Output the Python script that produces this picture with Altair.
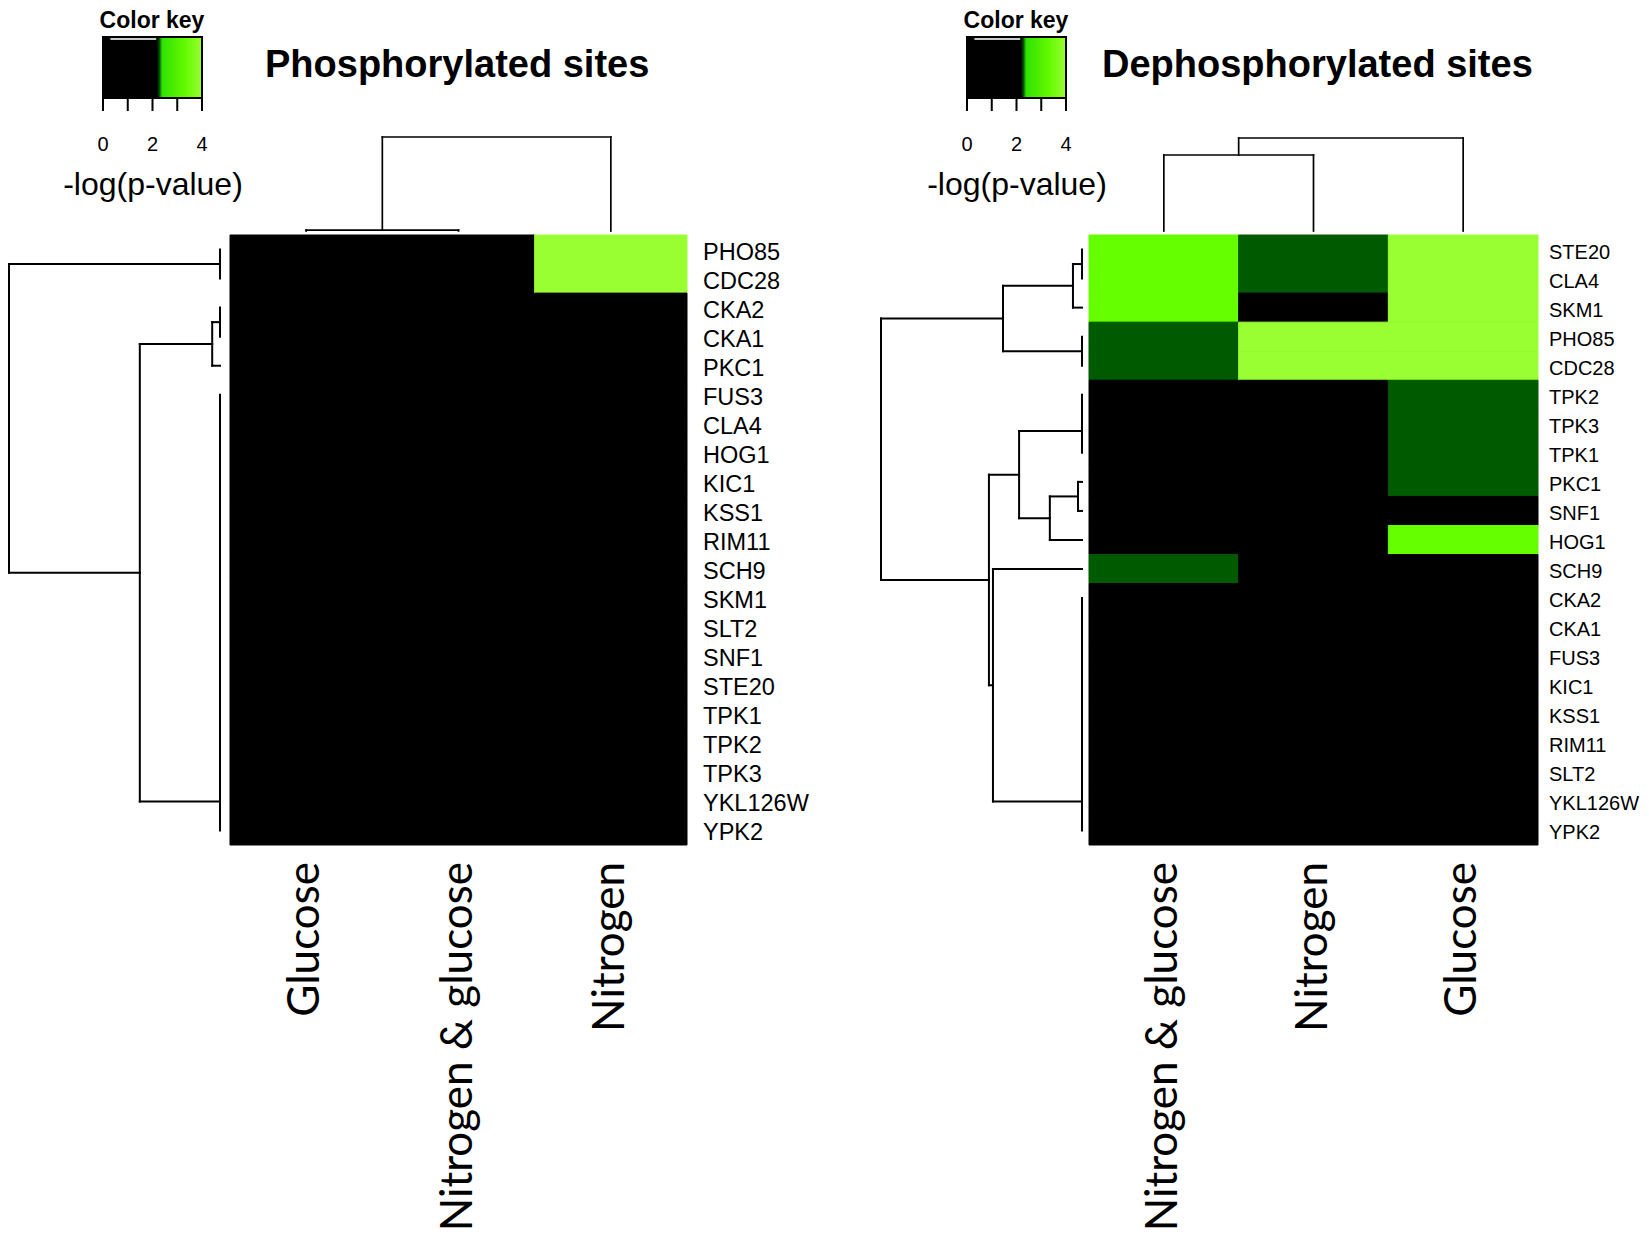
import numpy as np
import pandas as pd
import altair as alt

# ---------------- data ----------------
phos_rows = ["PHO85", "CDC28", "CKA2", "CKA1", "PKC1", "FUS3", "CLA4", "HOG1", "KIC1", "KSS1",
             "RIM11", "SCH9", "SKM1", "SLT2", "SNF1", "STE20", "TPK1", "TPK2", "TPK3", "YKL126W", "YPK2"]
phos_cols = ["Glucose", "Nitrogen & glucose", "Nitrogen"]
phos_glucose = [0, 0, 0, 0, 0, 0, 0, 0, 0, 0, 0, 0, 0, 0, 0, 0, 0, 0, 0, 0, 0]
phos_nitrogen_glucose = [0, 0, 0, 0, 0, 0, 0, 0, 0, 0, 0, 0, 0, 0, 0, 0, 0, 0, 0, 0, 0]
phos_nitrogen = [4.0, 4.0, 0, 0, 0, 0, 0, 0, 0, 0, 0, 0, 0, 0, 0, 0, 0, 0, 0, 0, 0]

dephos_rows = ["STE20", "CLA4", "SKM1", "PHO85", "CDC28", "TPK2", "TPK3", "TPK1", "PKC1", "SNF1",
               "HOG1", "SCH9", "CKA2", "CKA1", "FUS3", "KIC1", "KSS1", "RIM11", "SLT2", "YKL126W", "YPK2"]
dephos_cols = ["Nitrogen & glucose", "Nitrogen", "Glucose"]
dephos_nitrogen_glucose = [3.3, 3.3, 3.3, 2.3, 2.3, 0, 0, 0, 0, 0, 0, 2.3, 0, 0, 0, 0, 0, 0, 0, 0, 0]
dephos_nitrogen = [2.3, 2.3, 0, 4.0, 4.0, 0, 0, 0, 0, 0, 0, 0, 0, 0, 0, 0, 0, 0, 0, 0, 0]
dephos_glucose = [4.0, 4.0, 4.0, 4.0, 4.0, 2.3, 2.3, 2.3, 2.3, 0, 3.3, 0, 0, 0, 0, 0, 0, 0, 0, 0, 0]

# dendrogram merges: (left pos, left height, right pos, right height, merge height)
phos_row_tree = [
    (0, 0, 1, 0, 0),
    (2, 0, 3, 0, 0),
    (2.5, 0, 4, 0, 0.037),
    (5, 0, 20, 0, 0),
    (3.25, 0.037, 19, 0, 0.38),
    (0.5, 0, 11.125, 0.38, 1.0),
]
phos_col_tree = [(0, 0, 1, 0, 0.01), (0.5, 0.01, 2, 0, 1.0)]

dephos_row_tree = [
    (0, 0, 1, 0, 0),
    (0.5, 0, 2, 0, 0.045),
    (3, 0, 4, 0, 0),
    (1.25, 0.045, 3.5, 0, 0.393),
    (5, 0, 6, 0, 0),
    (5.5, 0, 7, 0, 0),
    (8, 0, 9, 0, 0.02),
    (8.5, 0.02, 10, 0, 0.16),
    (6.25, 0, 9.25, 0.16, 0.313),
    (12, 0, 20, 0, 0),
    (11, 0, 19, 0, 0.443),
    (7.75, 0.313, 15, 0.443, 0.463),
    (2.375, 0.393, 11.375, 0.463, 1.0),
]
dephos_col_tree = [(0, 0, 1, 0, 0.817), (0.5, 0.817, 2, 0, 1.0)]

key_tick_values = [0, 1, 2, 3, 4]
key_label_values = [0, 2, 4]

color_domain = [0, 2.2, 2.3, 2.4, 3.3, 4.0]
color_range = ["#000000", "#000000", "#005a00", "#33e600", "#66ff00", "#99ff33"]


def cscale():
    return alt.Scale(domain=color_domain, range=color_range, interpolate="rgb")


def qscale(domain, rng):
    return alt.Scale(domain=domain, range=rng, zero=False, nice=False)


def tree_segments(merges):
    segs = []
    for pa, ha, pb, hb, hm in merges:
        if hm > ha:
            segs.append(dict(p1=pa + 0.5, h1=ha, p2=pa + 0.5, h2=hm))
        if hm > hb:
            segs.append(dict(p1=pb + 0.5, h1=hb, p2=pb + 0.5, h2=hm))
        segs.append(dict(p1=pa + 0.5, h1=hm, p2=pb + 0.5, h2=hm))
    return pd.DataFrame(segs)


def panel(rows, cols, values, row_tree, col_tree, hx, rd_x, cd_y, key_x, title, title_x,
          ck_x, lg_x, label_dx, label_size):
    hy = [227, 837]
    nrow, ncol = len(rows), len(cols)
    recs = []
    for ci, vals in enumerate(values):
        for ri, v in enumerate(vals):
            recs.append(dict(c0=ci, c1=ci + 1, r0=ri, r1=ri + 1, v=v))
    heat_df = pd.DataFrame(recs)
    X = lambda f: alt.X(f, scale=qscale([0, ncol], hx), axis=None)
    Y = lambda f: alt.Y(f, scale=qscale([0, nrow], hy), axis=None)

    base = alt.Chart(pd.DataFrame(dict(c0=[0], c1=[ncol], r0=[0], r1=[nrow]))).mark_rect(
        color="black").encode(x=X("c0:Q"), x2="c1:Q", y=Y("r0:Q"), y2="r1:Q")

    heat = alt.Chart(heat_df).mark_rect(strokeWidth=1).encode(
        x=X("c0:Q"), x2="c1:Q", y=Y("r0:Q"), y2="r1:Q",
        color=alt.Color("v:Q", scale=cscale(), legend=None),
        stroke=alt.Stroke("v:Q", scale=cscale(), legend=None),
    )

    rl_df = pd.DataFrame(dict(name=rows, rc=[i + 0.5 for i in range(nrow)], edge=[ncol] * nrow))
    row_labels = alt.Chart(rl_df).mark_text(
        align="left", baseline="middle", dx=label_dx, dy=3, font="Liberation Sans",
        fontSize=label_size, color="black").encode(x=X("edge:Q"), y=Y("rc:Q"), text="name:N")

    cl_df = pd.DataFrame(dict(name=cols, cc=[i + 0.5 for i in range(ncol)], edge=[nrow] * ncol))
    col_labels = alt.Chart(cl_df).mark_text(
        angle=270, align="right", baseline="middle", dx=-17, font="Lato", fontSize=44,
        color="black").encode(x=X("cc:Q"), y=Y("edge:Q"), text="name:N")

    rtree = tree_segments(row_tree)
    row_dend = alt.Chart(rtree).mark_rule(color="black", strokeWidth=2, strokeCap="square").encode(
        x=alt.X("h1:Q", scale=qscale([0, 1], rd_x), axis=None), x2="h2:Q",
        y=Y("p1:Q"), y2="p2:Q")

    ctree = tree_segments(col_tree)
    col_dend = alt.Chart(ctree).mark_rule(color="black", strokeWidth=1.7, strokeCap="square").encode(
        x=X("p1:Q"), x2="p2:Q",
        y=alt.Y("h1:Q", scale=qscale([0, 1], cd_y), axis=None), y2="h2:Q")

    # colour key
    edges = np.round(np.arange(0, 4.0001, 0.04), 4)
    kdf = pd.DataFrame(dict(lo=edges[:-1], hi=edges[1:], v=(edges[:-1] + edges[1:]) / 2))
    KX = lambda f: alt.X(f, scale=qscale([0, 4], key_x), axis=None)
    key_bg = alt.Chart(pd.DataFrame(dict(a=[0], b=[4]))).mark_rect(color="black").encode(
        x=KX("a:Q"), x2="b:Q", y=alt.value(29), y2=alt.value(90))
    key = alt.Chart(kdf).mark_rect(strokeWidth=0.8).encode(
        x=KX("lo:Q"), x2="hi:Q", y=alt.value(29), y2=alt.value(90),
        color=alt.Color("v:Q", scale=cscale(), legend=None),
        stroke=alt.Stroke("v:Q", scale=cscale(), legend=None))
    dens = alt.Chart(pd.DataFrame(dict(a=[0.3], b=[2.15]))).mark_rule(
        color="#c8c8c8", strokeWidth=2).encode(x=KX("a:Q"), x2="b:Q", y=alt.value(31), y2=alt.value(31))
    border = alt.Chart(pd.DataFrame(dict(a=[0], b=[4]))).mark_rect(
        fill=None, stroke="black", strokeWidth=2).encode(
        x=KX("a:Q"), x2="b:Q", y=alt.value(29), y2=alt.value(90))
    ticks = alt.Chart(pd.DataFrame(dict(t=key_tick_values))).mark_rule(
        color="black", strokeWidth=2).encode(x=KX("t:Q"), y=alt.value(90), y2=alt.value(103))
    tlab = alt.Chart(pd.DataFrame(dict(t=key_label_values))).mark_text(
        font="Liberation Sans", fontSize=20, baseline="middle", color="black").encode(
        x=KX("t:Q"), y=alt.value(137), text="t:Q")
    ck = alt.Chart(pd.DataFrame(dict(t=["Color key"]))).mark_text(
        font="Liberation Sans", fontSize=23, fontWeight="bold", baseline="top", color="black").encode(
        x=alt.value(ck_x), y=alt.value(2), text="t:N")
    lg = alt.Chart(pd.DataFrame(dict(t=["-log(p-value)"]))).mark_text(
        font="Liberation Sans", fontSize=32, baseline="middle", color="black").encode(
        x=alt.value(lg_x), y=alt.value(177), text="t:N")
    tt = alt.Chart(pd.DataFrame(dict(t=[title]))).mark_text(
        font="Liberation Sans", fontSize=38, fontWeight="bold", align="left", baseline="middle",
        color="black").encode(x=alt.value(title_x), y=alt.value(58), text="t:N")

    return [base, heat, row_labels, col_labels, row_dend, col_dend,
            key_bg, key, dens, border, ticks, tlab, ck, lg, tt]


left = panel(phos_rows, phos_cols, [phos_glucose, phos_nitrogen_glucose, phos_nitrogen],
             phos_row_tree, phos_col_tree,
             hx=[222, 679], rd_x=[212, 1], cd_y=[223, 129], key_x=[95, 194],
             title="Phosphorylated sites", title_x=257, ck_x=144, lg_x=145,
             label_dx=16, label_size=23.5)
right = panel(dephos_rows, dephos_cols, [dephos_nitrogen_glucose, dephos_nitrogen, dephos_glucose],
              dephos_row_tree, dephos_col_tree,
              hx=[1081, 1530], rd_x=[1074, 873], cd_y=[223, 130], key_x=[959, 1058],
              title="Dephosphorylated sites", title_x=1094, ck_x=1008, lg_x=1009,
              label_dx=11, label_size=20)

chart = alt.layer(*(left + right)).resolve_scale(
    x="independent", y="independent"
).properties(
    width=1633, height=1229, padding=0,
    autosize=alt.AutoSizeParams(type="none"),
    background="white",
).configure_view(stroke=None)

chart.save("out.html", embed_options={"renderer": "svg", "actions": False})
